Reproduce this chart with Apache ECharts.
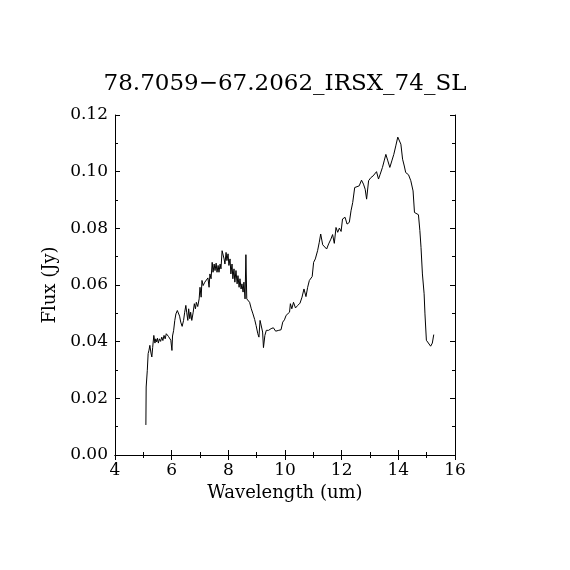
<!DOCTYPE html>
<html>
<head>
<meta charset="utf-8">
<script src="https://cdn.jsdelivr.net/npm/echarts@6/dist/echarts.min.js"></script>
<style>
html,body{margin:0;padding:0;background:#fff;}
#chart{width:570px;height:570px;}
</style>
</head>
<body>
<div id="chart"></div>
<script>
var titleText = "78.7059\u221267.2062_IRSX_74_SL";
var xAxisName = "Wavelength (um)";
var yAxisName = "Flux (Jy)";

var wavelength = [
5.09,5.10,5.14,5.17,5.20,5.23,5.27,5.30,5.33,5.37,5.41,5.44,5.47,5.50,5.53,5.57,5.61,5.65,5.69,5.73,
5.77,5.81,5.85,5.89,5.93,5.97,6.01,6.03,6.07,6.11,6.15,6.20,6.24,6.28,6.32,6.37,6.42,6.46,6.50,6.53,
6.57,6.60,6.64,6.67,6.71,6.76,6.80,6.84,6.87,6.92,6.97,7.00,7.04,7.07,7.11,7.17,7.23,7.28,7.32,7.35,
7.39,7.43,7.46,7.50,7.53,7.57,7.60,7.64,7.67,7.71,7.74,7.78,7.81,7.85,7.88,7.92,7.95,7.99,8.02,8.06,
8.09,8.13,8.16,8.20,8.23,8.27,8.31,8.34,8.38,8.41,8.45,8.48,8.52,8.55,8.59,8.62,8.65,8.70,8.75,8.81,
8.87,8.93,8.98,9.04,9.08,9.12,9.17,9.21,9.24,9.29,9.34,9.42,9.51,9.59,9.67,9.71,9.78,9.86,9.92,9.98,
10.04,10.10,10.16,10.19,10.24,10.30,10.37,10.45,10.53,10.60,10.67,10.74,10.80,10.86,10.96,11.01,11.07,11.15,11.21,11.26,
11.33,11.40,11.47,11.54,11.62,11.68,11.74,11.80,11.86,11.92,11.98,12.03,12.12,12.19,12.27,12.33,12.39,12.46,12.53,12.62,
12.70,12.77,12.83,12.88,12.95,13.03,13.11,13.18,13.23,13.30,13.36,13.44,13.50,13.56,13.63,13.70,13.77,13.84,13.91,13.98,
14.03,14.09,14.15,14.21,14.26,14.36,14.44,14.52,14.57,14.64,14.71,14.76,14.80,14.85,14.91,14.94,14.99,15.06,15.14,15.20,
15.25
];
var flux = [
0.0106,0.0240,0.0299,0.0358,0.0370,0.0387,0.0360,0.0346,0.0380,0.0422,0.0395,0.0410,0.0399,0.0412,0.0395,0.0410,0.0401,0.0416,0.0404,0.0422,
0.0410,0.0428,0.0422,0.0418,0.0412,0.0405,0.0369,0.0420,0.0440,0.0475,0.0498,0.0510,0.0505,0.0490,0.0469,0.0454,0.0475,0.0504,0.0528,0.0504,
0.0475,0.0516,0.0481,0.0504,0.0475,0.0504,0.0534,0.0516,0.0539,0.0524,0.0551,0.0592,0.0557,0.0616,0.0598,0.0610,0.0616,0.0625,0.0592,0.0639,
0.0622,0.0680,0.0645,0.0674,0.0651,0.0677,0.0645,0.0669,0.0645,0.0674,0.0657,0.0721,0.0715,0.0692,0.0674,0.0715,0.0686,0.0710,0.0669,0.0692,
0.0639,0.0674,0.0622,0.0657,0.0610,0.0651,0.0604,0.0633,0.0592,0.0622,0.0586,0.0604,0.0575,0.0610,0.0551,0.0707,0.0551,0.0555,0.0539,0.0516,
0.0498,0.0478,0.0457,0.0428,0.0416,0.0475,0.0469,0.0434,0.0379,0.0422,0.0440,0.0440,0.0446,0.0449,0.0437,0.0431,0.0440,0.0442,0.0469,0.0477,
0.0493,0.0500,0.0504,0.0534,0.0516,0.0539,0.0519,0.0528,0.0536,0.0557,0.0586,0.0559,0.0592,0.0616,0.0630,0.0680,0.0692,0.0721,0.0751,0.0780,
0.0742,0.0739,0.0727,0.0745,0.0762,0.0778,0.0747,0.0803,0.0786,0.0801,0.0789,0.0833,0.0839,0.0815,0.0821,0.0862,0.0891,0.0944,0.0944,0.0950,
0.0970,0.0956,0.0938,0.0903,0.0968,0.0979,0.0985,0.0989,0.1000,0.0974,0.0991,0.1015,0.1038,0.1061,0.1038,0.1015,0.1038,0.1061,0.1091,0.1122,
0.1126,0.1097,0.1044,0.1020,0.0997,0.0989,0.0968,0.0932,0.0856,0.0853,0.0848,0.0792,0.0733,0.0639,0.0569,0.0498,0.0405,0.0399,0.0384,0.0395,
0.0425
];

var seriesData = wavelength.map(function (w, i) { return [w, flux[i]]; });

var FONT = "DejaVu Serif";
var axisLineStyle = { show: true, lineStyle: { color: '#000', width: 1 } };
var tickStyle = { show: true, inside: true, length: 5, lineStyle: { color: '#000', width: 1 } };
var minorTickStyle = { show: true, splitNumber: 2, length: 3, lineStyle: { color: '#000', width: 1 } };

var chart = echarts.init(document.getElementById('chart'), null, { renderer: 'canvas' });
chart.setOption({
  animation: false,
  backgroundColor: '#fff',
  title: {
    text: titleText,
    left: 'center',
    top: 68,
    textStyle: { fontFamily: FONT, fontSize: 23, fontWeight: 'normal', color: '#000' }
  },
  grid: { left: 115, right: 115, top: 115, bottom: 115, containLabel: false },
  xAxis: [
    {
      type: 'value', position: 'bottom', min: 4, max: 16, interval: 2,
      name: xAxisName, nameLocation: 'middle', nameGap: 28,
      nameTextStyle: { fontFamily: FONT, fontSize: 18, color: '#000' },
      axisLine: axisLineStyle, axisTick: tickStyle, minorTick: minorTickStyle,
      axisLabel: { fontFamily: FONT, fontSize: 17, color: '#000', margin: 7 },
      splitLine: { show: false }
    },
    {
      type: 'value', position: 'top', min: 4, max: 16, interval: 2,
      axisLine: axisLineStyle, axisTick: tickStyle, minorTick: minorTickStyle,
      axisLabel: { show: false }, splitLine: { show: false }
    }
  ],
  yAxis: [
    {
      type: 'value', position: 'left', min: 0, max: 0.12, interval: 0.02,
      name: yAxisName, nameLocation: 'middle', nameGap: 54, nameRotate: 90,
      nameTextStyle: { fontFamily: FONT, fontSize: 18, color: '#000' },
      axisLine: axisLineStyle, axisTick: tickStyle, minorTick: minorTickStyle,
      axisLabel: { fontFamily: FONT, fontSize: 17, color: '#000', margin: 7,
        formatter: function (v) { return v.toFixed(2); } },
      splitLine: { show: false }
    },
    {
      type: 'value', position: 'right', min: 0, max: 0.12, interval: 0.02,
      axisLine: axisLineStyle, axisTick: tickStyle, minorTick: minorTickStyle,
      axisLabel: { show: false }, splitLine: { show: false }
    }
  ],
  series: [
    {
      type: 'line', xAxisIndex: 0, yAxisIndex: 0,
      data: seriesData, showSymbol: false, symbol: 'none',
      lineStyle: { color: '#000', width: 1 }, silent: true
    }
  ]
});
</script>
</body>
</html>
